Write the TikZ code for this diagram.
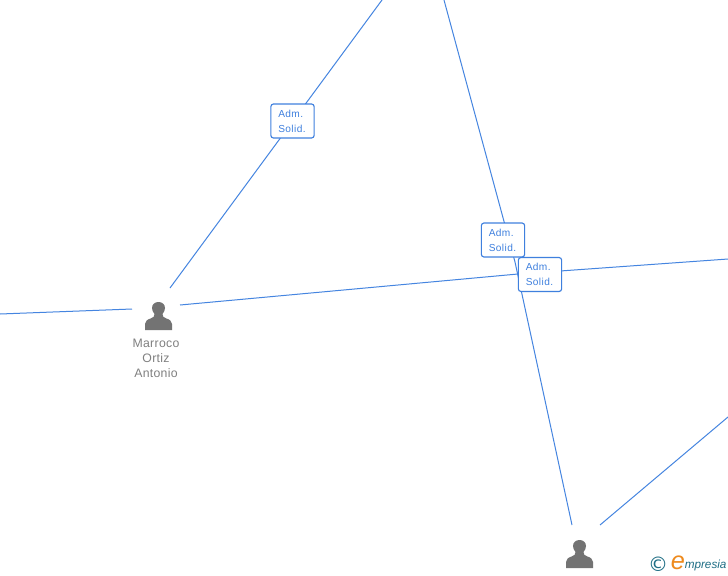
\documentclass[tikz,border=0pt]{standalone}
\usepackage{fontspec}
\setmainfont{Liberation Sans}
\newfontfamily\logofont{DejaVu Sans}
\newfontfamily\namefont[LetterSpace=2.5]{Liberation Sans}
\newfontfamily\rolefont[LetterSpace=4]{Liberation Sans}
\definecolor{linkblue}{HTML}{4585E0}
\definecolor{boxblue}{HTML}{3F80DE}
\definecolor{persongrey}{HTML}{737373}
\definecolor{labelgrey}{HTML}{808080}
\definecolor{logoteal}{HTML}{1F6E85}
\definecolor{logoorange}{HTML}{EE8A1D}
\tikzset{
  x=0.75pt,y=-0.75pt,
  link/.style={draw=linkblue,line width=0.75pt},
  roleBox/.style={draw=boxblue,fill=white,rounded corners=2pt,line width=0.85pt,minimum width=32.5pt,minimum height=25.5pt,inner sep=0pt,text=boxblue},
  roleText/.style={inner sep=0pt,anchor=west,align=left,text=boxblue,font=\rolefont\fontsize{7.6pt}{11.2pt}\selectfont},
  personName/.style={text=labelgrey,align=center,inner sep=0pt,font=\namefont\fontsize{9.2pt}{11.2pt}\selectfont},
  personAnchor/.style={inner sep=0pt,minimum width=21pt,minimum height=21pt},
}
\newcommand{\personicon}[2]{%
  \fill[persongrey,shift={(#1,#2)}]
    (-13.5,14) -- (-13.5,8) .. controls (-13.5,5) and (-11,3.5) .. (-7.5,2.3)
    .. controls (-5,1.4) and (-4,0.5) .. (-4,-2)
    .. controls (-5.6,-3.8) and (-6.5,-6) .. (-6.5,-8)
    .. controls (-6.5,-11.8) and (-3.5,-14) .. (0,-14)
    .. controls (3.5,-14) and (6.5,-11.8) .. (6.5,-8)
    .. controls (6.5,-6) and (5.6,-3.8) .. (4,-2)
    .. controls (4,0.5) and (5,1.4) .. (7.5,2.3)
    .. controls (11,3.5) and (13.5,5) .. (13.5,8) -- (13.5,14) -- cycle;
}
\begin{document}
\begin{tikzpicture}
\useasboundingbox (0,0) rectangle (728,575);
\fill[white] (0,0) rectangle (728,575);
% free ends
\coordinate (w) at (0,314);
\coordinate (e) at (728,259);
\coordinate (n1) at (382,0);
\coordinate (n2) at (444,0);
\coordinate (se) at (728,417);
% people
\node[personAnchor] (marroco) at (158.5,316) {};
\node[personAnchor] (other) at (579.5,554) {};
\personicon{158.5}{316}
\personicon{579.5}{554}
\node[personName] (marrocoName) at (156,358) {Marroco\\Ortiz\\Antonio};
% connectors
\coordinate (mW) at (132,309);
\coordinate (mE) at (180,305);
\coordinate (mN) at (170,288);
\coordinate (oN) at (572,525);
\coordinate (oE) at (600,525);
\draw[link] (w) -- (mW);
\draw[link] (mN) -- (n1);
\draw[link] (mE) -- (518,274) -- (e);
\draw[link] (n2) -- (515,262) -- (oN);
\draw[link] (oE) -- (se);
% labels
\node[roleBox] (lab1) at (292.5,121) {};
\node[roleText] at (278,121) {Adm.\\Solid.};
\node[roleBox] (lab2) at (503,240) {};
\node[roleText] at (488.5,240) {Adm.\\Solid.};
\node[roleBox] (lab3) at (540,274.5) {};
\node[roleText] at (525.5,274.5) {Adm.\\Solid.};
% logo
\node[inner sep=0pt,text=logoteal,font=\logofont\fontsize{15pt}{15pt}\selectfont] (copy) at (658,564) {©};
\node[inner sep=0pt,text=logoorange,font=\fontsize{19pt}{19pt}\selectfont\itshape] (logoE) at (678,563) {e};
\node[inner sep=0pt,anchor=west,text=logoteal,font=\fontsize{8.8pt}{10pt}\selectfont\itshape] (logoT) at (684.5,565) {mpresia};
\end{tikzpicture}
\end{document}
